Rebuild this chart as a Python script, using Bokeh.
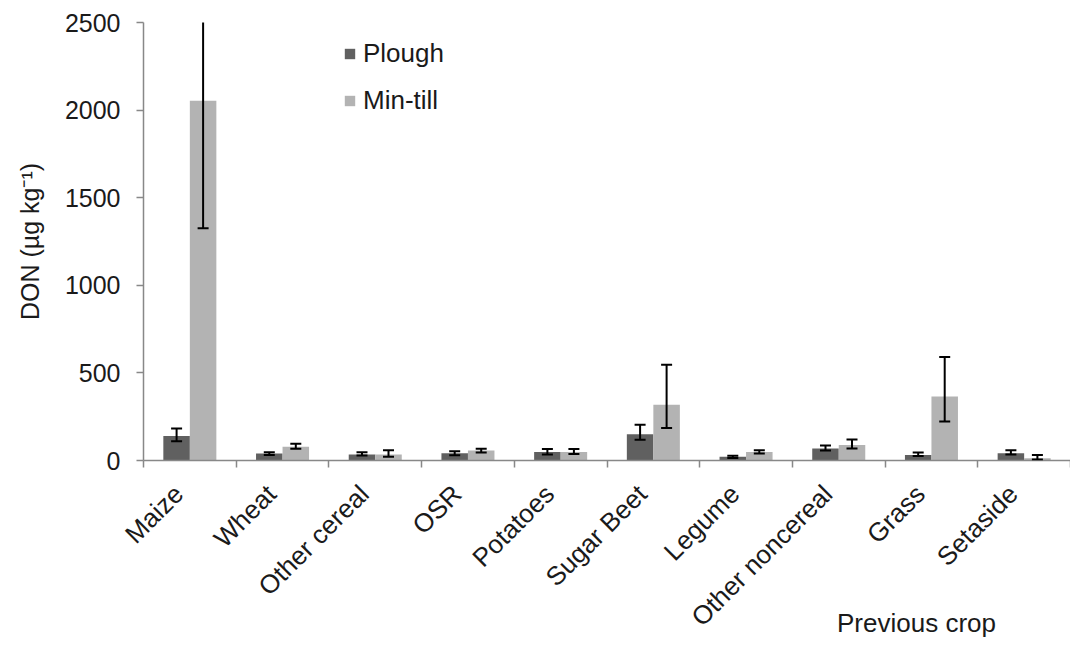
import numpy as np
from bokeh.plotting import figure
from bokeh.models import (Range1d, LinearAxis, LinearScale, FixedTicker, Whisker, TeeHead,
                          ColumnDataSource, Legend, LegendItem)
from bokeh.embed import file_html
from bokeh.resources import INLINE

crops = ["Maize", "Wheat", "Other cereal", "OSR", "Potatoes", "Sugar Beet",
         "Legume", "Other noncereal", "Grass", "Setaside"]
plough = [140, 40, 34, 42, 49, 150, 21, 69, 32, 42]
plough_lo = [110, 32, 29, 30, 34, 118, 14, 57, 25, 34]
plough_hi = [183, 47, 47, 53, 66, 204, 27, 86, 46, 59]
mintill = [2054, 78, 34, 57, 49, 318, 49, 89, 366, 13]
mintill_lo = [1326, 67, 21, 46, 37, 185, 40, 69, 223, 6]
mintill_hi = [2780, 95, 59, 67, 66, 547, 59, 120, 591, 32]
y_ticks = [0, 500, 1000, 1500, 2000, 2500]
x_title = "Previous crop"
y_title = "DON (µg kg⁻¹)"

FONT = "Liberation Sans"
PLOUGH_C = "#606060"
MINTILL_C = "#b3b3b3"
AXIS_C = "#888888"

n = len(crops)
idx = np.arange(n)
off = 0.143
bw = 0.286

src = ColumnDataSource(dict(xp=idx - off, xm=idx + off,
                            plough=plough, plough_lo=plough_lo, plough_hi=plough_hi,
                            mintill=mintill, mintill_lo=mintill_lo, mintill_hi=mintill_hi))

p = figure(width=1070, height=651, x_range=Range1d(-0.5, n - 0.5), y_range=Range1d(0, 2500),
           output_backend="svg", toolbar_location=None, x_axis_location=None,
           min_border_left=143, min_border_right=0, min_border_top=22, min_border_bottom=191)
p.outline_line_color = None
p.xgrid.visible = False
p.ygrid.visible = False

r1 = p.vbar(x="xp", top="plough", width=bw, source=src, fill_color=PLOUGH_C, line_color=None)
r2 = p.vbar(x="xm", top="mintill", width=bw, source=src, fill_color=MINTILL_C, line_color=None)

for key, xcol in (("plough", "xp"), ("mintill", "xm")):
    w = Whisker(base=xcol, lower=key + "_lo", upper=key + "_hi", level="annotation",
                source=src, line_color="black", line_width=2,
                upper_head=TeeHead(size=11, line_color="black", line_width=2),
                lower_head=TeeHead(size=11, line_color="black", line_width=2))
    p.add_layout(w)

# y axis
ya = p.yaxis[0]
ya.ticker = FixedTicker(ticks=y_ticks)
ya.minor_tick_line_color = None
ya.major_tick_in = 0
ya.major_tick_out = 7
ya.axis_line_color = AXIS_C
ya.axis_line_width = 1.5
ya.major_tick_line_color = AXIS_C
ya.major_tick_line_width = 1.5
ya.major_label_text_font = FONT
ya.major_label_text_font_size = "25px"
ya.major_label_text_color = "#1a1a1a"
ya.major_label_standoff = 16
ya.axis_label = y_title
ya.axis_label_text_font = FONT
ya.axis_label_text_font_size = "25px"
ya.axis_label_text_font_style = "normal"
ya.axis_label_text_color = "#1a1a1a"
ya.axis_label_standoff = 18

# x axis: tick-only axis at category boundaries + label axis at centers (slightly shifted left)
p.extra_x_ranges = {"lab": Range1d(-0.5 + 0.12, n - 0.5 + 0.12),
                    "ttl": Range1d(-773, 154)}
p.extra_x_scales = {"lab": LinearScale(), "ttl": LinearScale()}
tick_axis = LinearAxis(ticker=FixedTicker(ticks=[i - 0.5 for i in range(n + 1)]),
                       axis_line_color=AXIS_C, axis_line_width=1.5,
                       major_tick_line_color=AXIS_C, major_tick_line_width=1.5,
                       major_tick_in=0, major_tick_out=7, minor_tick_line_color=None,
                       major_label_text_font_size="1px", major_label_text_alpha=0,
                       major_label_standoff=0)
label_axis = LinearAxis(x_range_name="lab", ticker=FixedTicker(ticks=list(range(n))),
                        major_label_overrides={i: c for i, c in enumerate(crops)},
                        axis_line_color=None, major_tick_line_color=None, minor_tick_line_color=None,
                        major_label_orientation=0.785398,
                        major_label_text_font=FONT, major_label_text_font_size="26px",
                        major_label_text_color="#1a1a1a", major_label_standoff=16)
# axis used only to carry the x title, placed at the lower right
title_axis = LinearAxis(x_range_name="ttl", ticker=FixedTicker(ticks=[0]),
                        major_label_overrides={0: x_title},
                        axis_line_color=None, major_tick_line_color=None, minor_tick_line_color=None,
                        major_tick_in=0, major_tick_out=0,
                        major_label_text_font=FONT, major_label_text_font_size="26px",
                        major_label_text_color="#1a1a1a", major_label_standoff=-38)
p.add_layout(tick_axis, "below")
p.add_layout(label_axis, "below")
p.add_layout(title_axis, "below")

legend = Legend(items=[LegendItem(label="Plough", renderers=[r1]),
                       LegendItem(label="Min-till", renderers=[r2])],
                location=(200, 344), border_line_color=None, background_fill_alpha=0,
                label_text_font=FONT, label_text_font_size="26px", label_text_color="#1a1a1a",
                glyph_width=13, glyph_height=13, label_standoff=7, spacing=16,
                padding=0, margin=0)
p.add_layout(legend)

open("out.html", "w").write(file_html(p, INLINE))
